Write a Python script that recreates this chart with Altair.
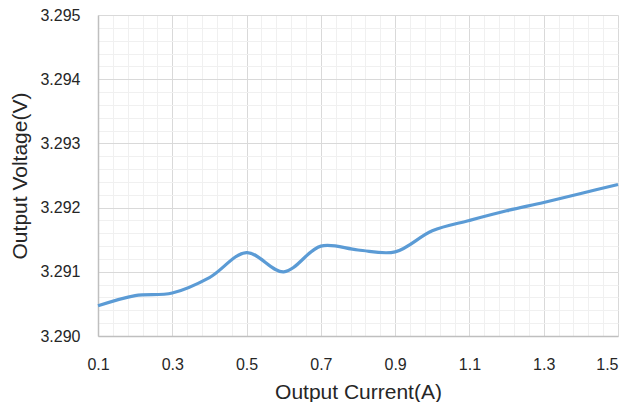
import altair as alt
import pandas as pd

current = [0.1, 0.2, 0.3, 0.4, 0.5, 0.6, 0.7, 0.8, 0.9, 1.0, 1.1, 1.2, 1.3, 1.4, 1.5]
voltage = [3.29047, 3.29063, 3.29067, 3.29091, 3.29130, 3.29100, 3.29140, 3.29134,
           3.29131, 3.29164, 3.29180, 3.29195, 3.29208, 3.29222, 3.29236]

x_major = [0.1, 0.3, 0.5, 0.7, 0.9, 1.1, 1.3, 1.5]
y_major = [3.290, 3.291, 3.292, 3.293, 3.294, 3.295]
x_minor = [round(0.1 + 0.04 * i, 2) for i in range(36)]
y_minor = [round(3.290 + 0.0002 * i, 4) for i in range(26)]

df = pd.DataFrame({"current": current, "voltage": voltage})

xscale = alt.Scale(domain=[0.1, 1.5], nice=False, zero=False)
yscale = alt.Scale(domain=[3.290, 3.295], nice=False, zero=False)

FONT = "Liberation Sans"

minor = alt.Chart(df).mark_line(opacity=0).encode(
    x=alt.X("current:Q", scale=xscale,
            axis=alt.Axis(values=x_minor, grid=True, gridColor="#f0f0f0", gridWidth=1,
                          labels=False, ticks=False, domain=False, title=None, orient="bottom")),
    y=alt.Y("voltage:Q", scale=yscale,
            axis=alt.Axis(values=y_minor, grid=True, gridColor="#f0f0f0", gridWidth=1,
                          labels=False, ticks=False, domain=False, title=None, orient="left")),
)

line = alt.Chart(df).mark_line(
    color="#5B9BD5", strokeWidth=3.2, interpolate="catmull-rom"
).encode(
    x=alt.X("current:Q", scale=xscale,
            axis=alt.Axis(values=x_major, format=".1f", grid=True, gridColor="#d9d9d9",
                          domain=True, domainColor="#bfbfbf", domainWidth=1.5,
                          ticks=False, tickSize=0, labelPadding=20, labelFlush=False,
                          labelAlign=alt.ExprRef("datum.value >= 1.45 ? 'right' : 'center'"),
                          labelFont=FONT, labelFontSize=16, labelColor="#262626",
                          title="Output Current(A)", titleFont=FONT, titleFontSize=21,
                          titleFontWeight="normal", titleColor="#262626",
                          titleBaseline="alphabetic", titleY=62, titleX=260,
                          orient="bottom")),
    y=alt.Y("voltage:Q", scale=yscale,
            axis=alt.Axis(values=y_major, format=".3f", grid=True, gridColor="#d9d9d9",
                          domain=True, domainColor="#bfbfbf", domainWidth=1.5,
                          ticks=False, tickSize=0, labelPadding=18, labelFlush=False,
                          labelFont=FONT, labelFontSize=16, labelColor="#262626",
                          title="Output Voltage(V)", titleFont=FONT, titleFontSize=21,
                          titleFontWeight="normal", titleColor="#262626",
                          titleBaseline="alphabetic", titleX=-72, titleY=160.5,
                          titleAngle=270, orient="left")),
)

chart = alt.layer(minor, line).resolve_axis(x="independent", y="independent").properties(
    width=520, height=321,
    autosize=alt.AutoSizeParams(type="none"),
    padding={"left": 90, "top": 7, "right": 3, "bottom": 66},
    background="white",
).configure_view(strokeWidth=0)

chart.save("out.html", embed_options={"renderer": "svg", "actions": False})
